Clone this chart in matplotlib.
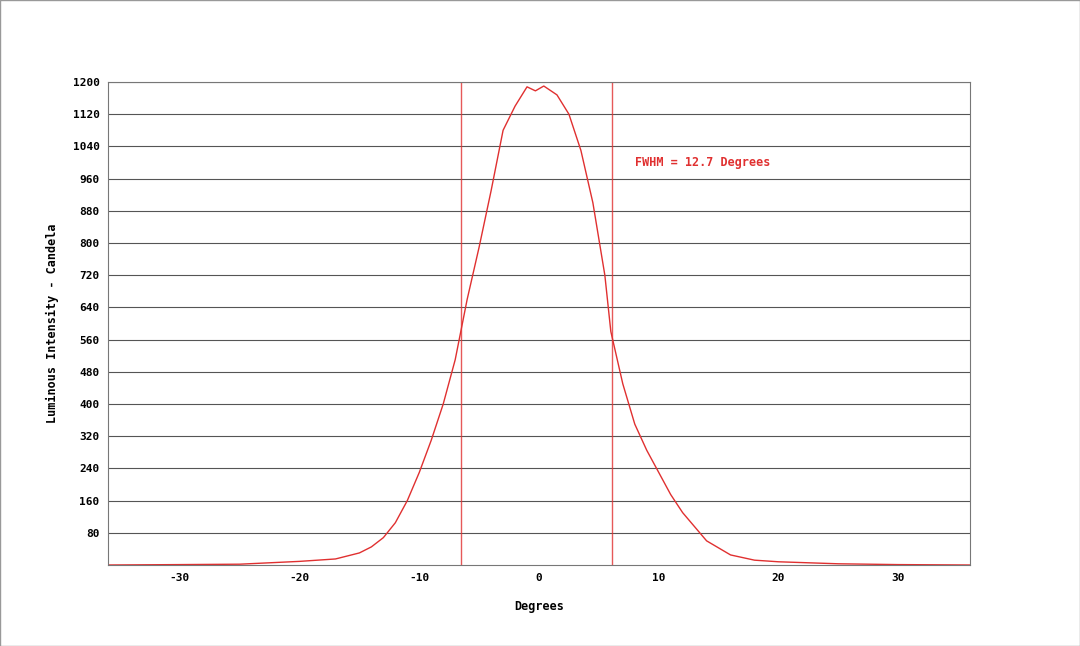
import numpy as np
import matplotlib.pyplot as plt

plt.rcParams['axes.unicode_minus'] = False

degrees = [-36, -30, -25, -20, -17, -15, -14, -13, -12, -11, -10, -9, -8, -7, -6.5, -6, -5, -4, -3, -2, -1,
           -0.3, 0.4, 1.5, 2.5, 3.5, 4.5, 5.5, 6, 7, 8, 9, 10, 11, 12, 13, 14, 16, 18, 20, 25, 30, 36]
intensity = [0, 1, 2, 9, 15, 30, 45, 68, 105, 160, 230, 310, 400, 510, 585, 660, 790, 930, 1080, 1140, 1188,
             1178, 1190, 1168, 1120, 1030, 900, 720, 580, 450, 350, 285, 230, 175, 130, 95, 60, 25, 12, 8, 3, 1, 0]
fwhm_lines = [-6.5, 6.1]
yticks = [80, 160, 240, 320, 400, 480, 560, 640, 720, 800, 880, 960, 1040, 1120, 1200]
xticks = [-30, -20, -10, 0, 10, 20, 30]

red = '#e03030'
mono = 'DejaVu Sans Mono'

fig = plt.figure(figsize=(10.8, 6.46), dpi=100)
ax = fig.add_axes([108 / 1080, 1 - 565 / 646, 862 / 1080, 483 / 646])

ax.plot(degrees, intensity, color=red, linewidth=1)
for x in fwhm_lines:
    ax.axvline(x, color=red, linewidth=1, alpha=0.8)

ax.set_xlim(-36, 36)
ax.set_ylim(0, 1200)
ax.set_xticks(xticks)
ax.set_yticks(yticks)
ax.yaxis.grid(True, color='#555555', linewidth=0.8)
ax.set_axisbelow(True)
for s in ax.spines.values():
    s.set_color('#777777')
ax.tick_params(length=0, labelsize=8, pad=6)
for lbl in ax.get_xticklabels() + ax.get_yticklabels():
    lbl.set_family(mono)
    lbl.set_fontweight('bold')

ax.set_xlabel('Degrees', family=mono, fontweight='bold', fontsize=8.5, labelpad=12)
ax.set_ylabel('Luminous Intensity - Candela', family=mono, fontweight='bold',
              fontsize=8.5, labelpad=10)
ax.text(8, 1000, 'FWHM = 12.7 Degrees', color=red, family=mono,
        fontweight='bold', fontsize=8.5, va='center')

fig.patches.append(plt.Rectangle((0, 0), 1, 1, transform=fig.transFigure,
                                 fill=False, edgecolor='#999999', linewidth=1))
fig.savefig('out.png', dpi=100)
